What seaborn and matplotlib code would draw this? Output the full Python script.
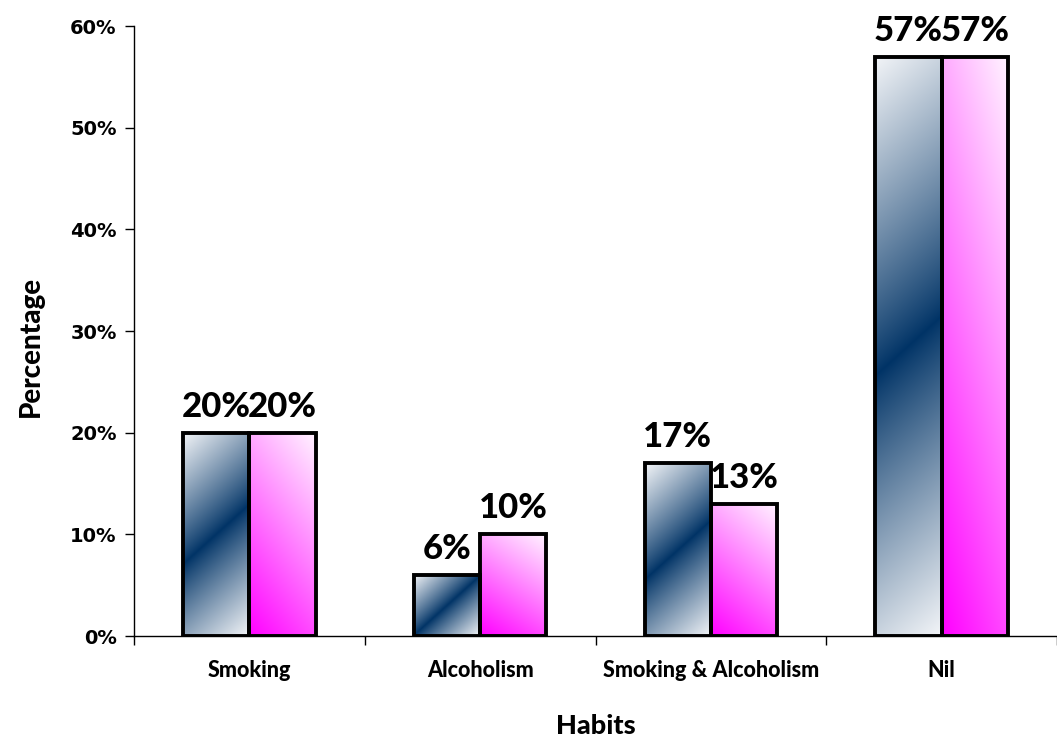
import numpy as np
import pandas as pd
import matplotlib
matplotlib.use("Agg")
import matplotlib.pyplot as plt
import seaborn as sns
from matplotlib.colors import to_rgb

# Share of each habit within the two groups (percent)
habits = ["Smoking", "Alcoholism", "Smoking & Alcoholism", "Nil"]
group_a = [20, 6, 17, 57]
group_b = [20, 10, 13, 57]
groups = ["Group A", "Group B"]
ytick_values = [0, 10, 20, 30, 40, 50, 60]

df = pd.DataFrame({
    "Habits": habits * 2,
    "Percentage": group_a + group_b,
    "Group": [groups[0]] * len(habits) + [groups[1]] * len(habits),
})

sns.set_theme(style="white")
plt.rcParams["font.family"] = ["Lato", "DejaVu Sans"]
plt.rcParams["text.color"] = "black"
plt.rcParams["xtick.color"] = "black"
plt.rcParams["ytick.color"] = "black"
plt.rcParams["axes.labelcolor"] = "black"

fig = plt.figure(figsize=(10.57, 7.43), dpi=100)
ax = fig.add_axes([0.1268, 0.1440, 0.8732, 0.8210])

sns.barplot(
    data=df, x="Habits", y="Percentage", hue="Group",
    order=habits, hue_order=groups,
    palette=["#1f4e79", "#ff66ff"], width=0.575,
    edgecolor="black", linewidth=2.8, errorbar=None,
    legend=False, ax=ax,
)
ax.set_xlim(-0.5, len(habits) - 0.5)
ax.set_ylim(0, 60)


def gradient_fill(ax, patch, style):
    """Replace a bar's flat face by a diagonal gradient image."""
    x0, y0 = patch.get_x(), patch.get_y()
    w, h = patch.get_width(), patch.get_height()
    (px0, py0), (px1, py1) = ax.transData.transform([(x0, y0), (x0 + w, y0 + h)])
    nx = max(int(round(px1 - px0)), 2)
    ny = max(int(round(py1 - py0)), 2)
    u = np.linspace(-nx / 2, nx / 2, nx)
    v = np.linspace(ny / 2, -ny / 2, ny)  # first row is the top of the bar
    U, V = np.meshgrid(u, v)
    if style == "navy":
        # dark band along a rising diagonal, fading to near white at the corners
        th = np.deg2rad(42)
        d = np.abs(-U * np.sin(th) + V * np.cos(th))
        t = (d / d.max()) ** 0.9
        c0 = np.array(to_rgb("#003366"))
        c1 = np.array(to_rgb("#f3f5f8"))
    else:
        # near white at the top-right corner to full magenta at the bottom-left
        X = (U - U.min()) / (U.max() - U.min())
        Yd = (V.max() - V) / (V.max() - V.min())
        t = ((1 - X) * 0.6 + Yd * 1.4) / 2
        c0 = np.array(to_rgb("#fff4ff"))
        c1 = np.array(to_rgb("#ff00ff"))
    img = c0 + (c1 - c0) * t[..., None]
    ax.imshow(img, extent=(x0, x0 + w, y0, y0 + h), origin="upper",
              aspect="auto", interpolation="bilinear", zorder=0.9)
    patch.set_facecolor("none")
    patch.set_zorder(1)


styles = ["navy", "pink"]
for container, style, values in zip(ax.containers, styles, [group_a, group_b]):
    for patch, val in zip(container.patches, values):
        gradient_fill(ax, patch, style)
        ax.annotate(f"{val}%", xy=(patch.get_x() + patch.get_width() / 2, val),
                    xytext=(0, 11.5), textcoords="offset points",
                    ha="center", va="baseline", fontsize=25,
                    fontweight="black", color="black", zorder=5)

ax.set_xlim(-0.5, len(habits) - 0.5)
ax.set_ylim(0, 60)

# category separators as major ticks, names as minor tick labels
ax.set_xticks(np.arange(-0.5, len(habits), 1.0))
ax.set_xticklabels([])
ax.set_xticks(np.arange(len(habits)), minor=True)
ax.set_xticklabels(habits, minor=True, fontsize=15.5, fontweight="black")
ax.tick_params(axis="x", which="major", direction="out", length=6.5,
               width=1, color="black", bottom=True)
ax.tick_params(axis="x", which="minor", length=0, pad=17, bottom=True)

ax.set_yticks(ytick_values)
ax.set_yticklabels([f"{v}%" for v in ytick_values], fontfamily="DejaVu Sans",
                   fontweight="bold", fontsize=14)
ax.tick_params(axis="y", direction="out", length=6.5, width=1,
               color="black", left=True, pad=6)

for side in ["top", "right"]:
    ax.spines[side].set_visible(False)
for side in ["left", "bottom"]:
    ax.spines[side].set_color("black")
    ax.spines[side].set_linewidth(1.0)

ax.set_xlabel("Habits", fontsize=19.5, fontweight="black", color="black")
ax.set_ylabel("Percentage", fontsize=20, fontweight="black", color="black")
ax.xaxis.set_label_coords(0.5, -0.128)
ax.yaxis.set_label_coords(-0.0975, 0.474)

fig.savefig("out.png", dpi=100, facecolor="white")
